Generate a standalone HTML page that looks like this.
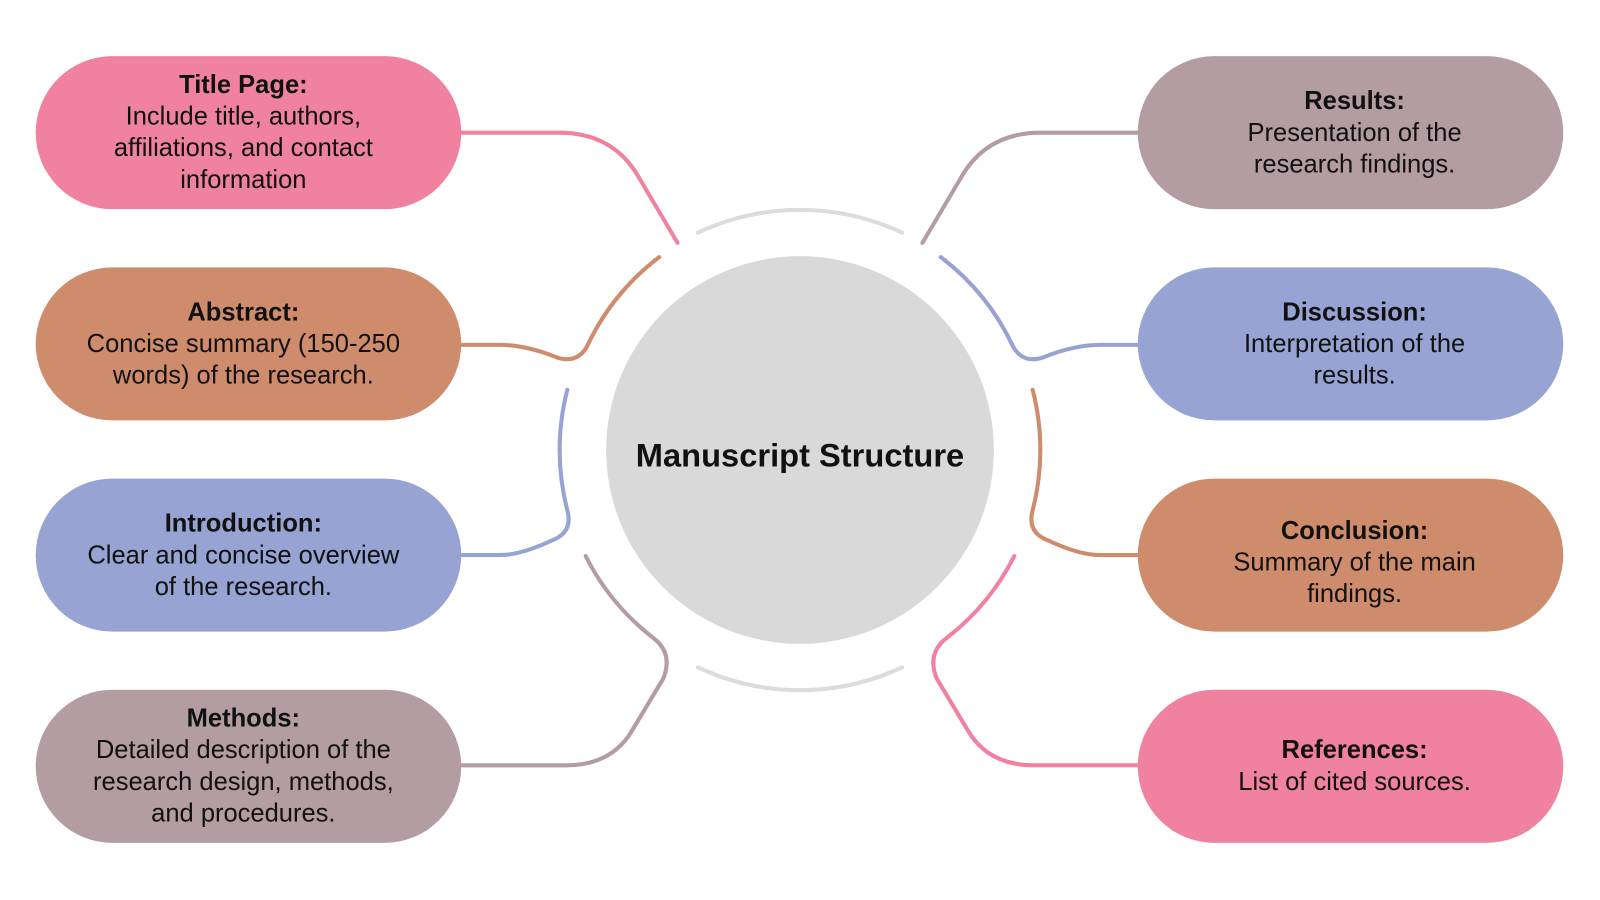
<!DOCTYPE html>
<html><head><meta charset="utf-8"><style>
body{margin:0;width:1600px;height:900px;background:#fff;overflow:hidden;font-family:"Liberation Sans",sans-serif;color:#111;}
#w{position:absolute;left:0;top:0;width:1568px;height:882px;transform:scale(1.0204);transform-origin:0 0;}
.p{position:absolute;width:417px;height:150px;border-radius:75px;display:flex;align-items:center;justify-content:center;text-align:center;font-size:25px;line-height:31px;}
.p b{font-weight:bold;}
.l{left:35px;padding-right:10px;box-sizing:border-box}.r{left:1115px;padding-left:8px;box-sizing:border-box}
.pk{background:#f0829f}.or{background:#cf8c6c}.bl{background:#97a3d2}.mv{background:#b39ca2}
svg{position:absolute;left:0;top:0}
.c{position:absolute;left:594px;top:251px;width:380px;height:380px;border-radius:50%;background:#d9d9d9;display:flex;align-items:center;justify-content:center;font-weight:bold;font-size:32px;padding-top:10px;box-sizing:border-box}
</style></head><body><div id="w">
<svg width="1568" height="882" fill="none" stroke-width="4" stroke-linecap="round">
<path d="M684,228 A235,235 0 0 1 884,228" stroke="#dcdcdc"/>
<path d="M684,654 A235,235 0 0 0 884,654" stroke="#dcdcdc"/>
<path d="M452,130 H548 Q600,130 625,172 L664,238" stroke="#f0829f"/>
<path d="M452,338 H490 Q515,338 545,350 Q565,357 575,340 A235,235 0 0 1 646,252" stroke="#cf8c6c"/>
<path d="M556,382 A235,235 0 0 0 556,500 Q562,522 540,530 Q510,544 490,544 H452" stroke="#97a3d2"/>
<path d="M574,545 A235,235 0 0 0 640,625 Q660,640 650,665 L620,715 Q600,750 555,750 H452" stroke="#b39ca2"/>
<path d="M1116,130 H1020 Q968,130 943,172 L904,238" stroke="#b39ca2"/>
<path d="M1116,338 H1078 Q1053,338 1023,350 Q1003,357 993,340 A235,235 0 0 0 922,252" stroke="#97a3d2"/>
<path d="M1012,382 A235,235 0 0 1 1012,500 Q1006,522 1028,530 Q1058,544 1078,544 H1116" stroke="#cf8c6c"/>
<path d="M994,545 A235,235 0 0 1 928,625 Q908,640 918,665 L948,715 Q968,750 1013,750 H1116" stroke="#f0829f"/>
</svg>
<div class="c">Manuscript Structure</div>
<div class="p l pk" style="top:55px"><div><b>Title Page:</b><br>Include title, authors,<br>affiliations, and contact<br>information</div></div>
<div class="p l or" style="top:262px"><div><b>Abstract:</b><br>Concise summary (150-250<br>words) of the research.</div></div>
<div class="p l bl" style="top:469px"><div><b>Introduction:</b><br>Clear and concise overview<br>of the research.</div></div>
<div class="p l mv" style="top:676px"><div><b>Methods:</b><br>Detailed description of the<br>research design, methods,<br>and procedures.</div></div>
<div class="p r mv" style="top:55px"><div><b>Results:</b><br>Presentation of the<br>research findings.</div></div>
<div class="p r bl" style="top:262px"><div><b>Discussion:</b><br>Interpretation of the<br>results.</div></div>
<div class="p r or" style="top:469px;padding-top:14px"><div><b>Conclusion:</b><br>Summary of the main<br>findings.</div></div>
<div class="p r pk" style="top:676px"><div><b>References:</b><br>List of cited sources.</div></div>
</div></body></html>
